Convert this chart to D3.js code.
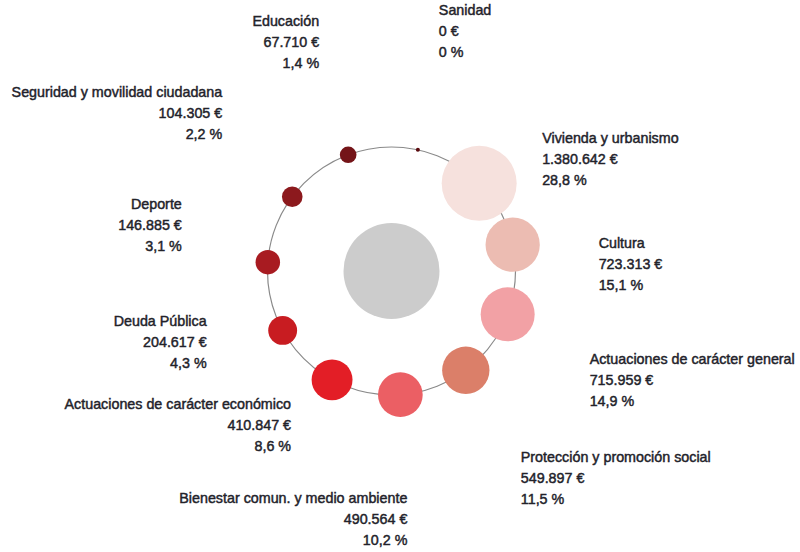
<!DOCTYPE html>
<html lang="es">
<head>
<meta charset="utf-8">
<script src="https://cdn.jsdelivr.net/npm/d3@7/dist/d3.min.js"></script>
<style>
  html, body { margin: 0; padding: 0; background: #fff; }
  svg { display: block; }
  .lbl {
    font-family: "Liberation Sans", Arial, Helvetica, sans-serif;
    font-size: 14.3px;
    fill: #22222a;
    stroke: #22222a;
    stroke-width: 0.45px;
  }
</style>
</head>
<body>
<svg id="chart" width="800" height="552"></svg>
<script>
// Budget by policy area, ordered from largest to smallest
const categories = [
  "Vivienda y urbanismo",
  "Cultura",
  "Actuaciones de carácter general",
  "Protección y promoción social",
  "Bienestar comun. y medio ambiente",
  "Actuaciones de carácter económico",
  "Deuda Pública",
  "Deporte",
  "Seguridad y movilidad ciudadana",
  "Educación",
  "Sanidad"
];
const amounts = [1380642, 723313, 715959, 549897, 490564, 410847, 204617, 146885, 104305, 67710, 0];
const shares  = [28.8, 15.1, 14.9, 11.5, 10.2, 8.6, 4.3, 3.1, 2.2, 1.4, 0];

// Bubble fill per category
const palette = [
  "#f6e1dd", "#ecbcb2", "#f2a1a5", "#db7f69", "#eb5f64", "#e31e26",
  "#c81c21", "#a81b21", "#8c191d", "#741418", "#5a0b0f"
];

// Label placement relative to each bubble centre: [dx, dy of first line, text-anchor]
const labelOffsets = [
  [63, -45, "start"],
  [86, -2, "start"],
  [82, 45, "start"],
  [55, 87, "start"],
  [7, 103, "end"],
  [-41, 24, "end"],
  [-76, -9, "end"],
  [-86, -58, "end"],
  [-70, -105, "end"],
  [-29, -134, "end"],
  [21, -140, "start"]
];

const svg = d3.select("#chart");
const cx = 391.5, cy = 271;
const ringR = 124;
const lineGap = 21;

const data = categories.map((name, i) => ({
  name, amount: amounts[i], share: shares[i], i
}));

// Evenly spaced positions round the ring, starting at 45° clockwise from the top
const angle = d3.scaleLinear()
  .domain([0, data.length])
  .range([Math.PI / 4, Math.PI / 4 + 2 * Math.PI]);

const radius = d3.scaleSqrt()
  .domain([0, d3.max(amounts)])
  .range([0, 37.5]);

const color = d3.scaleOrdinal().domain(categories).range(palette);

const es = d3.formatLocale({ decimal: ",", thousands: ".", grouping: [3], currency: ["", " €"] });
const fmtAmount = v => es.format(",d")(v) + " €";
const fmtShare = v => (v === 0 ? "0" : es.format(".1f")(v)) + " %";

const px = d => cx + ringR * Math.sin(angle(d.i));
const py = d => cy - ringR * Math.cos(angle(d.i));

// Central disc
svg.append("circle")
  .attr("cx", cx).attr("cy", cy).attr("r", 48)
  .attr("fill", "#cccccc");

// Ring path
svg.append("circle")
  .attr("cx", cx).attr("cy", cy).attr("r", ringR)
  .attr("fill", "none")
  .attr("stroke", "#8a8a8a")
  .attr("stroke-width", 1.2);

// Bubbles
svg.append("g").selectAll("circle")
  .data(data)
  .join("circle")
  .attr("cx", px)
  .attr("cy", py)
  .attr("r", d => Math.max(2, radius(d.amount)))
  .attr("fill", d => color(d.name));

// Labels: name, amount, share
const labels = svg.append("g").selectAll("text")
  .data(data)
  .join("text")
  .attr("class", "lbl")
  .attr("text-anchor", d => labelOffsets[d.i][2])
  .attr("x", d => px(d) + labelOffsets[d.i][0])
  .attr("y", d => py(d) + labelOffsets[d.i][1] + 5);

labels.each(function (d) {
  const t = d3.select(this);
  const x = px(d) + labelOffsets[d.i][0];
  [d.name, fmtAmount(d.amount), fmtShare(d.share)].forEach((s, k) => {
    t.append("tspan")
      .attr("x", x)
      .attr("dy", k === 0 ? 0 : lineGap)
      .text(s);
  });
});
</script>
</body>
</html>
